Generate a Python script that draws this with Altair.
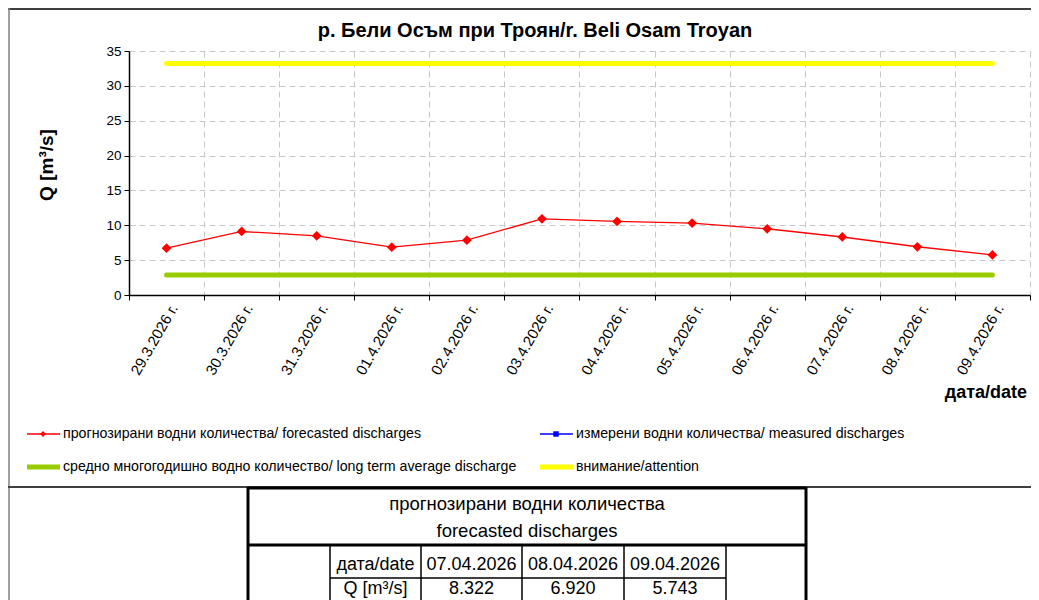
import altair as alt
import pandas as pd

FONT = "Liberation Sans"

# ---- data ----
dates = ["29.3.2026 г.", "30.3.2026 г.", "31.3.2026 г.", "01.4.2026 г.",
         "02.4.2026 г.", "03.4.2026 г.", "04.4.2026 г.", "05.4.2026 г.",
         "06.4.2026 г.", "07.4.2026 г.", "08.4.2026 г.", "09.4.2026 г."]
forecast = [6.72, 9.11, 8.49, 6.86, 7.86, 10.93, 10.55, 10.31, 9.50, 8.322, 6.920, 5.743]
average_q = 2.88
attention_q = 33.2
y_ticks = [0, 5, 10, 15, 20, 25, 30, 35]

title_text = "р. Бели Осъм при Троян/r. Beli Osam Troyan"
y_title = "Q [m³/s]"
x_title = "дата/date"
legend_labels = ["прогнозирани водни количества/ forecasted discharges",
                 "измерени водни количества/ measured discharges",
                 "средно многогодишно водно количество/ long term average discharge",
                 "внимание/attention"]
table_header = ["прогнозирани водни количества", "forecasted discharges"]
table_row_labels = ["дата/date", "Q [m³/s]"]
table_dates = ["07.04.2026", "08.04.2026", "09.04.2026"]
table_values = ["8.322", "6.920", "5.743"]

df = pd.DataFrame({"date": dates, "forecast": forecast,
                   "avg": [average_q] * len(dates), "att": [attention_q] * len(dates)})

W, H = 901, 244
SVG_W = 1023  # page width minus body margins

x_axis = alt.Axis(title=None, labelAngle=300, labelAlign="right", labelBaseline="middle",
                  tickBand="extent", grid=True, gridDash=[6, 4], gridColor="#c8c8c8",
                  domainColor="black", domainWidth=1.5, tickColor="black", tickSize=5,
                  labelFont=FONT, labelFontSize=15, labelColor="black",
                  labelPadding=5, labelOffset=7)
y_axis = alt.Axis(title=None, values=y_ticks, grid=True, gridDash=[6, 4], gridColor="#c8c8c8",
                  domainColor="black", domainWidth=1.5, tickColor="black", tickSize=5,
                  labelFont=FONT, labelFontSize=13.5, labelColor="black", labelPadding=3)

x_enc = alt.X("date:N", sort=dates,
              scale=alt.Scale(type="band", paddingInner=0, paddingOuter=0), axis=x_axis)


def y_enc(field):
    return alt.Y(field, scale=alt.Scale(domain=[0, 35], nice=False), axis=y_axis)


base = alt.Chart(df)
avg_line = base.mark_line(color="#99cc00", strokeWidth=5, strokeCap="round").encode(x=x_enc, y=y_enc("avg:Q"))
att_line = base.mark_line(color="#ffff00", strokeWidth=5, strokeCap="round").encode(x=x_enc, y=y_enc("att:Q"))
fc_line = base.mark_line(color="#ff0000", strokeWidth=1.3).encode(x=x_enc, y=y_enc("forecast:Q"))
fc_pts = base.mark_point(shape="diamond", filled=True, color="#ff0000", size=95, opacity=1).encode(
    x=x_enc, y=y_enc("forecast:Q"))

one = pd.DataFrame({"k": [0]})


def txt(text, x, y, size, bold=False, align="center", angle=0):
    kw = dict(font=FONT, fontSize=size, fontWeight="bold" if bold else "normal",
              align=align, baseline="middle", color="black")
    if angle:
        kw["angle"] = angle
    return alt.Chart(pd.DataFrame({"t": [text]})).mark_text(**kw).encode(
        x=alt.value(x), y=alt.value(y), text="t:N")


def hline(x1, x2, y, color="black", width=1):
    return alt.Chart(one).mark_rule(color=color, strokeWidth=width).encode(
        x=alt.value(x1), x2=alt.value(x2), y=alt.value(y))


def vline(x, y1, y2, color="black", width=1):
    return alt.Chart(one).mark_rule(color=color, strokeWidth=width).encode(
        x=alt.value(x), y=alt.value(y1), y2=alt.value(y2))


def marker(x, y, shape, color, size):
    return alt.Chart(one).mark_point(shape=shape, filled=True, color=color, size=size, opacity=1).encode(
        x=alt.value(x), y=alt.value(y))


# plot origin is page (129, 51)
ox, oy = 129, 51
deco = []
# frame: top and middle lines only (no right border in the reference)
deco.append(hline(8 - ox, 1031 - ox, 9 - oy, "#404040", 2))
deco.append(vline(9 - ox, 8 - oy, 600 - oy, "#808080", 1.5))
deco.append(hline(8 - ox, 1031 - ox, 487 - oy, "#404040", 2))
# titles
deco.append(txt(title_text, 535 - ox, 31 - oy, 20, bold=True))
deco.append(txt(y_title, 47 - ox, 165 - oy, 19, bold=True, angle=270))
deco.append(txt(x_title, 1027 - ox, 393 - oy, 18, bold=True, align="right"))
# legend
leg = [(27, 434, "#ff0000", 1.3, "diamond", 36), (540, 434, "#0000ff", 1.3, "square", 30),
       (27, 467, "#99cc00", 5, None, 0), (540, 467, "#ffff00", 5, None, 0)]
for (lx, ly, col, sw, shp, sz), lab in zip(leg, legend_labels):
    deco.append(hline(lx - ox, lx + 33 - ox, ly - oy, col, sw))
    if shp:
        deco.append(marker(lx + 16 - ox, ly - oy, shp, col, sz))
    deco.append(txt(lab, lx + 36 - ox, ly - oy, 14.2, align="left"))
# table
tl, tr = 248, 806
cols = [330, 421, 522, 624, 726]
deco.append(hline(tl - ox, tr - ox, 488 - oy, "black", 3))
deco.append(vline(tl - ox, 487 - oy, 600 - oy, "black", 3))
deco.append(vline(tr - ox, 487 - oy, 600 - oy, "black", 3))
deco.append(hline(tl - ox, tr - ox, 545 - oy, "black", 3))
for c in cols:
    deco.append(vline(c - ox, 545 - oy, 600 - oy, "black", 1.5))
deco.append(hline(cols[0] - ox, cols[-1] - ox, 578 - oy, "black", 1.5))
deco.append(txt(table_header[0], 527 - ox, 504 - oy, 18.5))
deco.append(txt(table_header[1], 527 - ox, 531 - oy, 18.5))
row_y = [565, 589]
deco.append(txt(table_row_labels[0], (cols[0] + cols[1]) / 2 - ox, row_y[0] - oy, 18))
deco.append(txt(table_row_labels[1], (cols[0] + cols[1]) / 2 - ox, row_y[1] - oy, 18))
for i, (d, v) in enumerate(zip(table_dates, table_values)):
    cx = (cols[i + 1] + cols[i + 2]) / 2 - ox
    deco.append(txt(d, cx, row_y[0] - oy, 18))
    deco.append(txt(v, cx, row_y[1] - oy, 18))

chart = alt.layer(avg_line, att_line, fc_line, fc_pts, *deco).properties(
    width=W, height=H,
    autosize=alt.AutoSizeParams(type="none"),
    padding={"left": ox - 8, "top": oy - 8, "right": SVG_W - (ox - 8) - W, "bottom": 600 - oy - H},
    background="white",
).configure_view(stroke="transparent")

chart.save("out.html", embed_options={"renderer": "svg", "actions": False})
